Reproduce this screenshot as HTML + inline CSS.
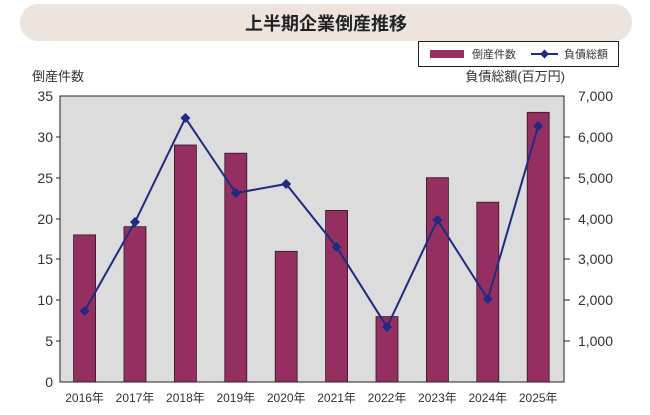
<!DOCTYPE html><html><head><meta charset="utf-8"><style>
body{margin:0;width:650px;height:410px;background:#fff;font-family:"Liberation Sans","Noto Sans CJK JP",sans-serif;overflow:hidden}
</style></head><body>
<svg width="650" height="410" xmlns="http://www.w3.org/2000/svg" font-family="Liberation Sans, Noto Sans CJK JP, sans-serif">
<rect x="20" y="4" width="612" height="37" rx="18" fill="#ece4dd"/>
<text x="326" y="30" font-size="18" font-weight="bold" text-anchor="middle" fill="#222">上半期企業倒産推移</text>
<rect x="418.5" y="41.5" width="200" height="25" fill="#fff" stroke="#222"/>
<rect x="430" y="50" width="34" height="8" fill="#962f61"/>
<text x="472" y="58" font-size="11" fill="#333">倒産件数</text>
<line x1="531" y1="54" x2="558" y2="54" stroke="#1f2a80" stroke-width="2"/>
<path d="M544.5 49.5 L549 54 L544.5 58.5 L540 54Z" fill="#1f2a80"/>
<text x="564" y="58" font-size="11" fill="#333">負債総額</text>
<text x="32" y="81" font-size="13" fill="#333">倒産件数</text>
<text x="565" y="81" font-size="13" fill="#333" text-anchor="end">負債総額(百万円)</text>
<rect x="60" y="96" width="504" height="286" fill="#dcdcdc" stroke="#222"/>
<g fill="#962f61" stroke="#2a1a22" stroke-width="0.8">
<rect x="73.6" y="234.9" width="22" height="147.1"/>
<rect x="124" y="226.7" width="22" height="155.3"/>
<rect x="174.4" y="145" width="22" height="237"/>
<rect x="224.8" y="153.2" width="22" height="228.8"/>
<rect x="275.2" y="251.3" width="22" height="130.7"/>
<rect x="325.6" y="210.4" width="22" height="171.6"/>
<rect x="376" y="316.6" width="22" height="65.4"/>
<rect x="426.4" y="177.7" width="22" height="204.3"/>
<rect x="476.8" y="202.2" width="22" height="179.8"/>
<rect x="527.2" y="112.3" width="22" height="269.7"/>
</g>
<polyline fill="none" stroke="#1f2a80" stroke-width="2" points="84.6,311 135,222 185.4,118 235.8,193 286.2,184 336.6,247 387,327 437.4,220 487.8,299 538.2,126"/>
<g fill="#1f2a80">
<path d="M84.6 306l5 5-5 5-5-5z"/><path d="M135 217l5 5-5 5-5-5z"/><path d="M185.4 113l5 5-5 5-5-5z"/><path d="M235.8 188l5 5-5 5-5-5z"/><path d="M286.2 179l5 5-5 5-5-5z"/><path d="M336.6 242l5 5-5 5-5-5z"/><path d="M387 322l5 5-5 5-5-5z"/><path d="M437.4 215l5 5-5 5-5-5z"/><path d="M487.8 294l5 5-5 5-5-5z"/><path d="M538.2 121l5 5-5 5-5-5z"/>
</g>
<g stroke="#222"><line x1="564" y1="137" x2="570" y2="137"/><line x1="564" y1="178" x2="570" y2="178"/><line x1="564" y1="219" x2="570" y2="219"/><line x1="564" y1="259" x2="570" y2="259"/><line x1="564" y1="300" x2="570" y2="300"/><line x1="564" y1="341" x2="570" y2="341"/>
<line x1="56" y1="137" x2="60" y2="137"/><line x1="56" y1="178" x2="60" y2="178"/><line x1="56" y1="219" x2="60" y2="219"/><line x1="56" y1="259" x2="60" y2="259"/><line x1="56" y1="300" x2="60" y2="300"/><line x1="56" y1="341" x2="60" y2="341"/></g>
<g font-size="14" fill="#333" text-anchor="end">
<text x="53" y="101">35</text><text x="53" y="142">30</text><text x="53" y="183">25</text><text x="53" y="224">20</text><text x="53" y="264">15</text><text x="53" y="305">10</text><text x="53" y="346">5</text><text x="53" y="387">0</text>
</g>
<g font-size="14" fill="#333" text-anchor="end">
<text x="613" y="101">7,000</text><text x="613" y="142">6,000</text><text x="613" y="183">5,000</text><text x="613" y="224">4,000</text><text x="613" y="264">3,000</text><text x="613" y="305">2,000</text><text x="613" y="346">1,000</text>
</g>
<g font-size="12" fill="#333" text-anchor="middle">
<text x="84.6" y="402">2016年</text><text x="135" y="402">2017年</text><text x="185.4" y="402">2018年</text><text x="235.8" y="402">2019年</text><text x="286.2" y="402">2020年</text><text x="336.6" y="402">2021年</text><text x="387" y="402">2022年</text><text x="437.4" y="402">2023年</text><text x="487.8" y="402">2024年</text><text x="538.2" y="402">2025年</text>
</g>
</svg>
</body></html>
